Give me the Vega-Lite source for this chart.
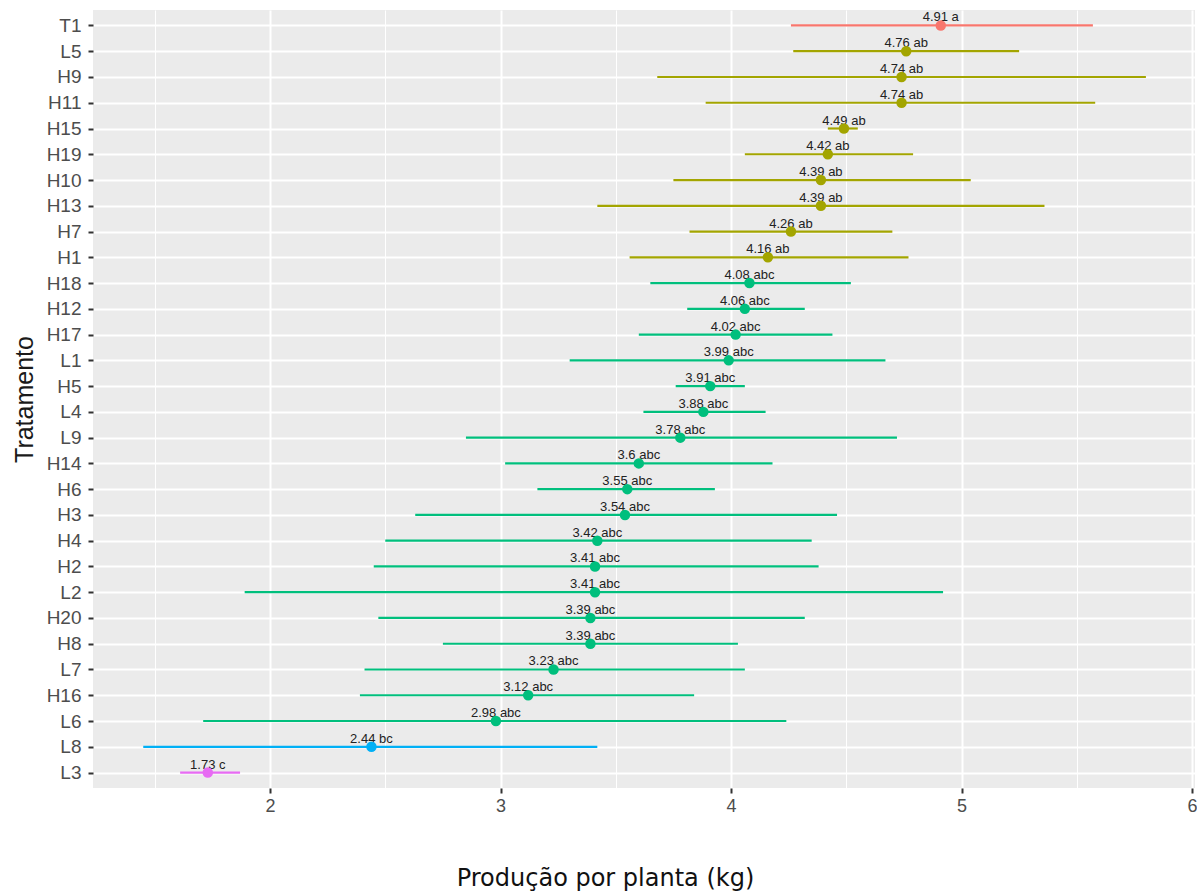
{
  "$schema": "https://vega.github.io/schema/vega-lite/v6.json",
  "autosize": {"type": "none"},
  "width": 1102,
  "height": 778,
  "padding": {"left": 93, "top": 10, "right": 2, "bottom": 105},
  "background": "white",
  "config": {
    "view": {"fill": "#EBEBEB", "stroke": null},
    "font": "Liberation Sans"
  },
  "data": {
    "values": [
      {"trat": "T1", "media": 4.91, "grupo": "a", "rotulo": "4.91 a", "inf": 4.26, "sup": 5.57},
      {"trat": "L5", "media": 4.76, "grupo": "ab", "rotulo": "4.76 ab", "inf": 4.27, "sup": 5.25},
      {"trat": "H9", "media": 4.74, "grupo": "ab", "rotulo": "4.74 ab", "inf": 3.68, "sup": 5.80},
      {"trat": "H11", "media": 4.74, "grupo": "ab", "rotulo": "4.74 ab", "inf": 3.89, "sup": 5.58},
      {"trat": "H15", "media": 4.49, "grupo": "ab", "rotulo": "4.49 ab", "inf": 4.42, "sup": 4.55},
      {"trat": "H19", "media": 4.42, "grupo": "ab", "rotulo": "4.42 ab", "inf": 4.06, "sup": 4.79},
      {"trat": "H10", "media": 4.39, "grupo": "ab", "rotulo": "4.39 ab", "inf": 3.75, "sup": 5.04},
      {"trat": "H13", "media": 4.39, "grupo": "ab", "rotulo": "4.39 ab", "inf": 3.42, "sup": 5.36},
      {"trat": "H7", "media": 4.26, "grupo": "ab", "rotulo": "4.26 ab", "inf": 3.82, "sup": 4.70},
      {"trat": "H1", "media": 4.16, "grupo": "ab", "rotulo": "4.16 ab", "inf": 3.56, "sup": 4.77},
      {"trat": "H18", "media": 4.08, "grupo": "abc", "rotulo": "4.08 abc", "inf": 3.65, "sup": 4.52},
      {"trat": "H12", "media": 4.06, "grupo": "abc", "rotulo": "4.06 abc", "inf": 3.81, "sup": 4.32},
      {"trat": "H17", "media": 4.02, "grupo": "abc", "rotulo": "4.02 abc", "inf": 3.60, "sup": 4.44},
      {"trat": "L1", "media": 3.99, "grupo": "abc", "rotulo": "3.99 abc", "inf": 3.30, "sup": 4.67},
      {"trat": "H5", "media": 3.91, "grupo": "abc", "rotulo": "3.91 abc", "inf": 3.76, "sup": 4.06},
      {"trat": "L4", "media": 3.88, "grupo": "abc", "rotulo": "3.88 abc", "inf": 3.62, "sup": 4.15},
      {"trat": "L9", "media": 3.78, "grupo": "abc", "rotulo": "3.78 abc", "inf": 2.85, "sup": 4.72},
      {"trat": "H14", "media": 3.6, "grupo": "abc", "rotulo": "3.6 abc", "inf": 3.02, "sup": 4.18},
      {"trat": "H6", "media": 3.55, "grupo": "abc", "rotulo": "3.55 abc", "inf": 3.16, "sup": 3.93},
      {"trat": "H3", "media": 3.54, "grupo": "abc", "rotulo": "3.54 abc", "inf": 2.63, "sup": 4.46},
      {"trat": "H4", "media": 3.42, "grupo": "abc", "rotulo": "3.42 abc", "inf": 2.50, "sup": 4.35},
      {"trat": "H2", "media": 3.41, "grupo": "abc", "rotulo": "3.41 abc", "inf": 2.45, "sup": 4.38},
      {"trat": "L2", "media": 3.41, "grupo": "abc", "rotulo": "3.41 abc", "inf": 1.89, "sup": 4.92},
      {"trat": "H20", "media": 3.39, "grupo": "abc", "rotulo": "3.39 abc", "inf": 2.47, "sup": 4.32},
      {"trat": "H8", "media": 3.39, "grupo": "abc", "rotulo": "3.39 abc", "inf": 2.75, "sup": 4.03},
      {"trat": "L7", "media": 3.23, "grupo": "abc", "rotulo": "3.23 abc", "inf": 2.41, "sup": 4.06},
      {"trat": "H16", "media": 3.12, "grupo": "abc", "rotulo": "3.12 abc", "inf": 2.39, "sup": 3.84},
      {"trat": "L6", "media": 2.98, "grupo": "abc", "rotulo": "2.98 abc", "inf": 1.71, "sup": 4.24},
      {"trat": "L8", "media": 2.44, "grupo": "bc", "rotulo": "2.44 bc", "inf": 1.45, "sup": 3.42},
      {"trat": "L3", "media": 1.73, "grupo": "c", "rotulo": "1.73 c", "inf": 1.61, "sup": 1.87}
    ]
  },
  "encoding": {
    "y": {
      "field": "trat",
      "type": "nominal",
      "sort": ["T1","L5","H9","H11","H15","H19","H10","H13","H7","H1","H18","H12","H17","L1","H5","L4","L9","H14","H6","H3","H4","H2","L2","H20","H8","L7","H16","L6","L8","L3"],
      "scale": {"type": "point", "padding": 0.6},
      "axis": {
        "title": "Tratamento",
        "titleFont": "Liberation Sans",
        "titleFontSize": 25,
        "titleFontWeight": "normal",
        "titleColor": "#1A1A1A",
        "titlePadding": 9,
        "labelFontSize": 19,
        "labelColor": "#4D4D4D",
        "labelPadding": 7,
        "tickSize": 5,
        "tickColor": "#333333",
        "tickWidth": 2,
        "domain": false,
        "grid": true,
        "gridColor": "white",
        "gridWidth": 2
      }
    }
  },
  "layer": [
    {
      "mark": {"type": "rule", "strokeWidth": 2.2},
      "encoding": {
        "x": {
          "field": "inf",
          "type": "quantitative",
          "scale": {"domain": [1.232, 6.013], "nice": false, "zero": false},
          "axis": {
            "title": "Produção por planta (kg)",
            "titleFont": "DejaVu Sans",
            "titleFontSize": 24,
            "titleFontWeight": "normal",
            "titleColor": "#111111",
            "titleX": 512,
            "titleY": 97,
            "titleBaseline": "alphabetic",
            "values": [1.5, 2, 2.5, 3, 3.5, 4, 4.5, 5, 5.5, 6],
            "labelExpr": "datum.value % 1 === 0 ? format(datum.value, 'd') : ''",
            "labelFontSize": 18,
            "labelColor": "#4D4D4D",
            "labelPadding": 4,
            "tickSize": 5,
            "tickColor": "#333333",
            "tickWidth": 2,
            "tickOpacity": {"condition": {"test": "datum.value % 1 !== 0", "value": 0}, "value": 1},
            "domain": false,
            "grid": true,
            "gridColor": "white",
            "gridWidth": {"condition": {"test": "datum.value % 1 !== 0", "value": 1}, "value": 2}
          }
        },
        "x2": {"field": "sup"},
        "color": {
          "field": "grupo",
          "type": "nominal",
          "scale": {"domain": ["a","ab","abc","bc","c"], "range": ["#F8766D","#A3A500","#00BF7D","#00B0F6","#E76BF3"]},
          "legend": null
        }
      }
    },
    {
      "mark": {"type": "text", "fontSize": 13, "baseline": "alphabetic", "dy": -4, "color": "#222222", "font": "Liberation Sans"},
      "encoding": {
        "x": {"field": "media", "type": "quantitative"},
        "text": {"field": "rotulo"}
      }
    },
    {
      "mark": {"type": "point", "filled": true, "size": 110, "opacity": 1},
      "encoding": {
        "x": {"field": "media", "type": "quantitative"},
        "color": {"field": "grupo", "type": "nominal", "legend": null}
      }
    }
  ]
}
